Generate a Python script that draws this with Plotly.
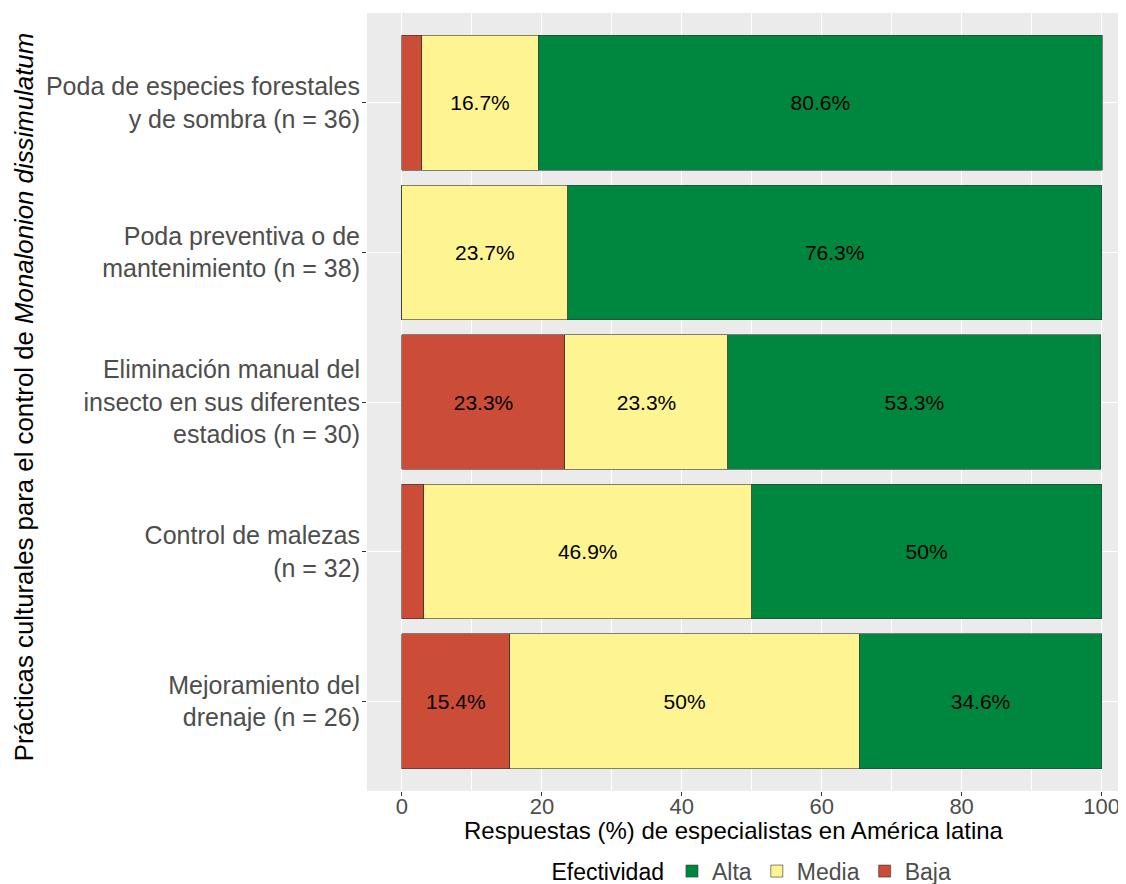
import plotly.graph_objects as go

categories = [
    "Poda de especies forestales<br>y de sombra (n = 36)",
    "Poda preventiva o de<br>mantenimiento (n = 38)",
    "Eliminación manual del<br>insecto en sus diferentes<br>estadios (n = 30)",
    "Control de malezas<br>(n = 32)",
    "Mejoramiento del<br>drenaje (n = 26)",
]
baja = [2.8, 0.0, 23.3, 3.1, 15.4]
media = [16.7, 23.7, 23.3, 46.9, 50.0]
alta = [80.6, 76.3, 53.3, 50.0, 34.6]

series = [("Baja", baja, "#CB4D37"), ("Media", media, "#FFF492"), ("Alta", alta, "#00873F")]
x_ticks = [0, 20, 40, 60, 80, 100]

fig = go.Figure()
for name, vals, col in series:
    txt = [f"{v:g}%" if v >= 5 else "" for v in vals]
    fig.add_trace(go.Bar(
        y=categories, x=vals, name=name, orientation="h",
        marker=dict(color=col, line=dict(color="#333333", width=0.6)),
        text=txt, textposition="inside", insidetextanchor="middle",
        textangle=0, constraintext="none",
        insidetextfont=dict(family="Liberation Sans, Arial", size=21, color="black"),
        hoverinfo="x+y+name",
    ))

# page body has an 8px offset, so the figure is laid out 8px smaller
W, H = 1118, 876
fig.update_layout(
    width=W, height=H,
    barmode="stack", bargap=0.1,
    paper_bgcolor="white", plot_bgcolor="#EBEBEB",
    margin=dict(l=359, r=0, t=5, b=93, autoexpand=False),
    font=dict(family="Liberation Sans, Arial", color="#4D4D4D"),
    showlegend=True,
    legend=dict(
        orientation="h", traceorder="reversed",
        x=0.5085, xanchor="center", y=-0.103, yanchor="middle",
        font=dict(size=23, color="#4D4D4D"),
        title=dict(text="Efectividad", font=dict(size=23, color="black")),
        itemwidth=30, tracegroupgap=0,
    ),
    xaxis=dict(
        range=[-5, 103.5], tickvals=x_ticks, ticktext=[str(t) for t in x_ticks],
        showgrid=True, gridcolor="white", gridwidth=1.2,
        minor=dict(dtick=10, tick0=0, showgrid=True, gridcolor="white", gridwidth=0.5),
        ticks="outside", ticklen=4, tickcolor="#333333",
        tickfont=dict(size=22, color="#4D4D4D"),
        ticklabelstandoff=-8,
        zeroline=False, showline=False, automargin=False,
    ),
    yaxis=dict(
        categoryorder="array", categoryarray=categories,
        range=[4.6, -0.6],
        showgrid=True, gridcolor="white", gridwidth=1.2,
        ticks="outside", ticklen=4, tickcolor="#333333",
        tickfont=dict(size=25, color="#4D4D4D"),
        ticklabelstandoff=-3,
        zeroline=False, showline=False, automargin=False,
    ),
    annotations=[
        dict(text="Respuestas (%) de especialistas en América latina",
             xref="paper", yref="paper", x=0.4835, y=-0.0505,
             xanchor="center", yanchor="middle", showarrow=False,
             font=dict(size=24, color="black")),
        dict(text="Prácticas culturales para el control de <i>Monalonion dissimulatum</i>",
             xref="paper", yref="paper", x=-0.452, y=0.506,
             xanchor="center", yanchor="middle", showarrow=False, textangle=-90,
             font=dict(family="Liberation Sans, Arial", size=25.8, color="black")),
    ],
)

fig.write_html("out.html")
